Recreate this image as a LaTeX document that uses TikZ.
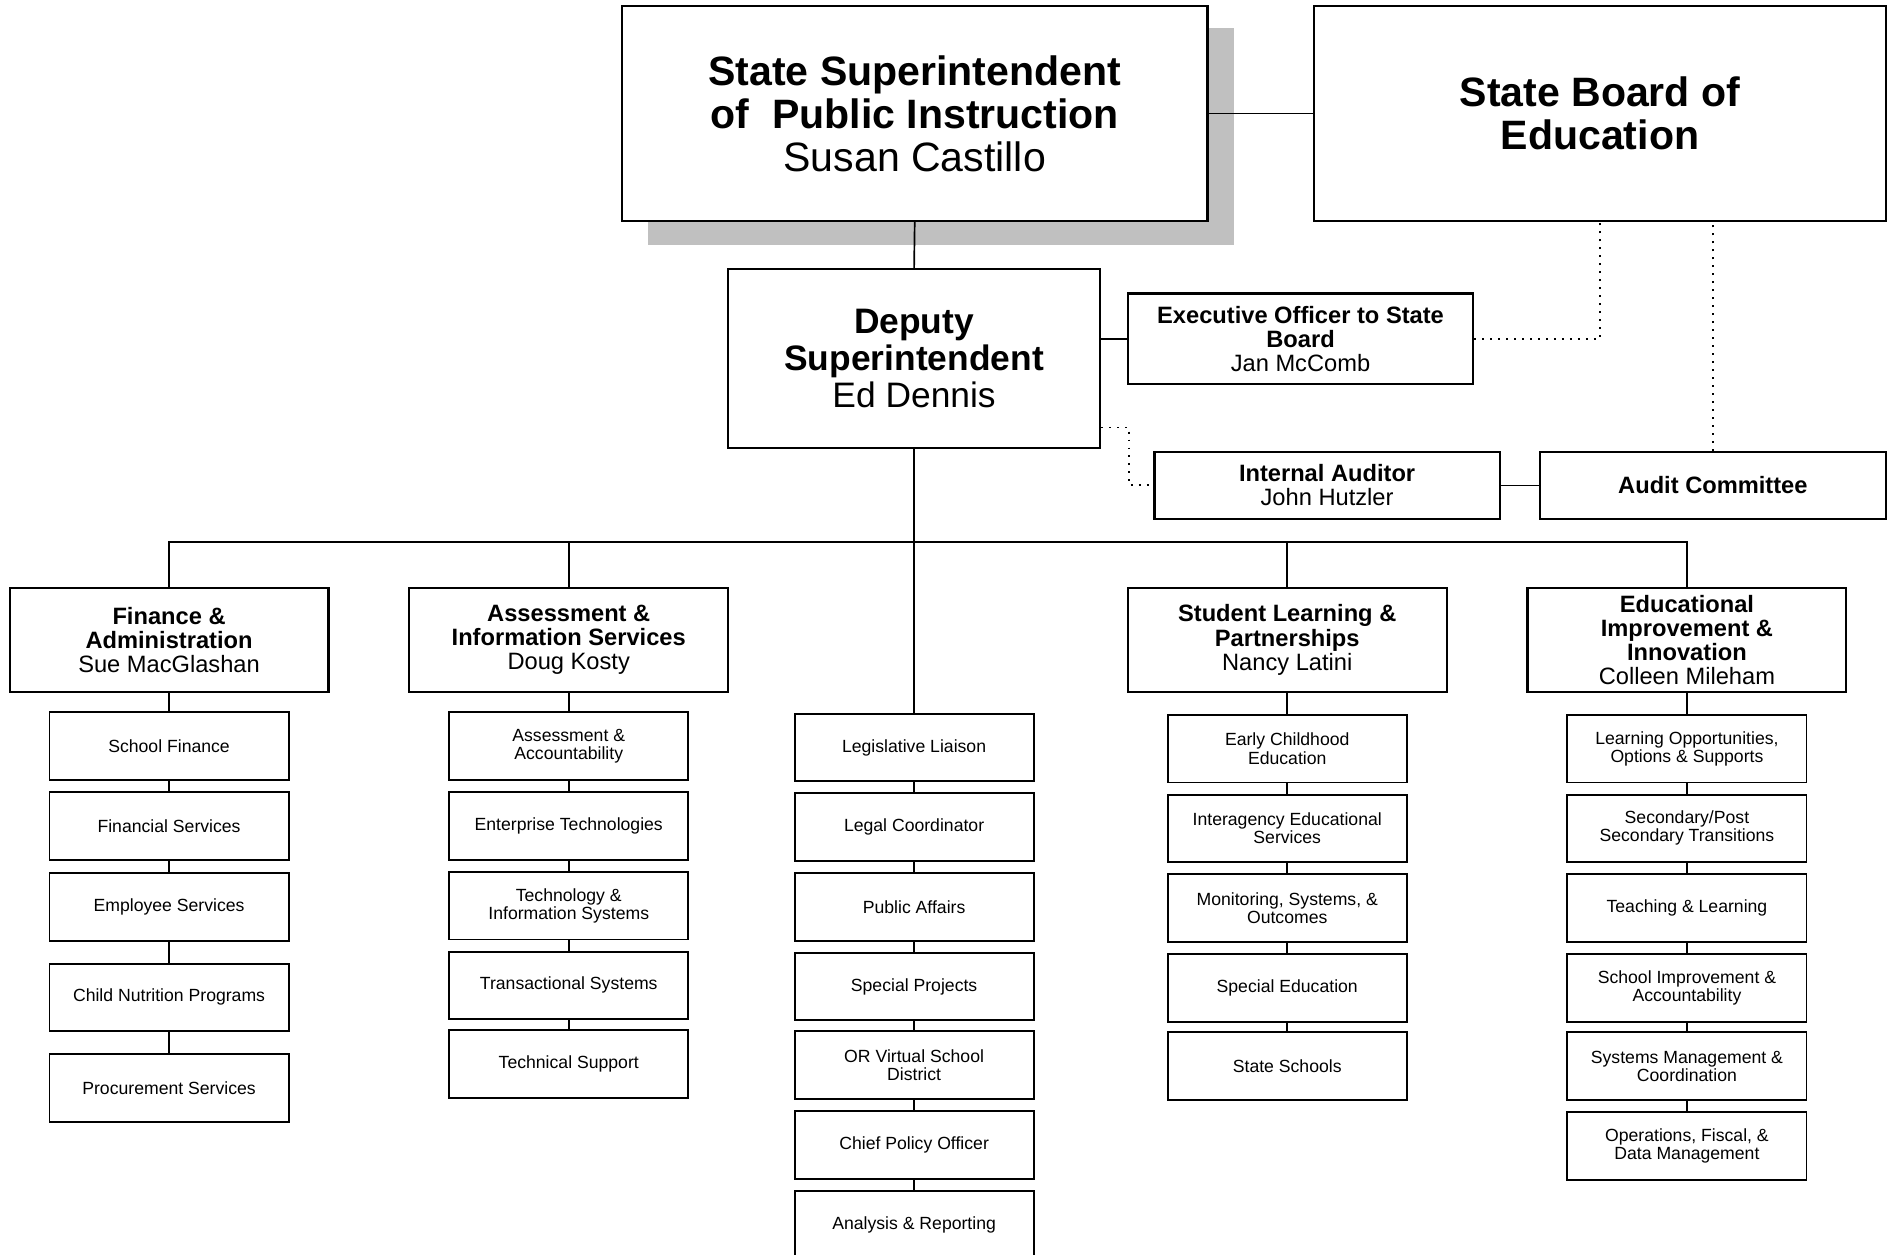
\documentclass[tikz,border=0pt]{standalone}
\usepackage{fontspec}
\setmainfont{Liberation Sans}
\definecolor{shadowgray}{RGB}{192,192,192}
\begin{document}
\begin{tikzpicture}[x=1pt,y=-1pt,
 box/.style={draw, line width=1.8pt, fill=white, inner sep=0pt, align=center},
 topb/.style={box, minimum height=178pt, font=\fontsize{34}{35.5}\selectfont},
 depb/.style={box, minimum width=308pt, minimum height=148pt, font=\fontsize{29.3}{30.5}\selectfont},
 midb/.style={box, minimum width=286pt, minimum height=#1, font=\fontsize{19.6}{20}\selectfont},
 midb/.default=56pt,
 divb/.style={box, minimum width=264pt, minimum height=86pt, font=\fontsize{19.6}{20}\selectfont},
 subb/.style={box, line width=1.6pt, minimum width=198pt, minimum height=56pt, font=\fontsize{14.6}{15}\selectfont},
 conn/.style={line width=1.4pt},
 dots/.style={line width=1.6pt, dash pattern=on 1.6pt off 5pt}
]
\useasboundingbox (0,0) rectangle (1566,1039.3);
\fill[white] (0,0) rectangle (1566,1039.3);
\fill[shadowgray] (537,23) rectangle (1022,203);

% top level
\node[topb, minimum width=485pt] (sspi) at (757.5,94)
  {\textbf{State Superintendent}\\\textbf{of\ \ Public Instruction}\\Susan Castillo};
\node[topb, minimum width=474pt] (sbe) at (1325,94)
  {\textbf{State Board of}\\\textbf{Education}};
\node[depb] (dep) at (757,297)
  {\textbf{Deputy}\\\textbf{Superintendent}\\Ed Dennis};
\node[midb=75pt] (exo) at (1077,280.5)
  {\textbf{Executive Officer to State}\\\textbf{Board}\\Jan McComb};
\node[midb] (ia) at (1099,402)
  {\textbf{Internal Auditor}\\John Hutzler};
\node[midb, minimum width=287pt] (aud) at (1418.5,402)
  {\textbf{Audit Committee}};

% divisions
\node[divb] (fin) at (140,530) {\textbf{Finance \&}\\\textbf{Administration}\\Sue MacGlashan};
\node[divb] (ais) at (471,530) {\textbf{Assessment \&}\\\textbf{Information Services}\\Doug Kosty};
\node[divb] (slp) at (1066,530) {\textbf{Student Learning \&}\\\textbf{Partnerships}\\Nancy Latini};
\node[divb] (eii) at (1397,530) {\textbf{Educational}\\\textbf{Improvement \&}\\\textbf{Innovation}\\Colleen Mileham};

% finance column
\node[subb] (f1) at (140,618) {School Finance};
\node[subb] (f2) at (140,684) {Financial Services};
\node[subb] (f3) at (140,751) {Employee Services};
\node[subb] (f4) at (140,826) {Child Nutrition Programs};
\node[subb] (f5) at (140,901) {Procurement Services};

% assessment column
\node[subb] (a1) at (471,618) {Assessment \&\\Accountability};
\node[subb] (a2) at (471,684) {Enterprise Technologies};
\node[subb] (a3) at (471,750) {Technology \&\\Information Systems};
\node[subb] (a4) at (471,816) {Transactional Systems};
\node[subb] (a5) at (471,881) {Technical Support};

% middle column
\node[subb] (m1) at (757,619) {Legislative Liaison};
\node[subb] (m2) at (757,685) {Legal Coordinator};
\node[subb] (m3) at (757,751) {Public Affairs};
\node[subb] (m4) at (757,817) {Special Projects};
\node[subb] (m5) at (757,882) {OR Virtual School\\District};
\node[subb] (m6) at (757,948) {Chief Policy Officer};
\node[subb] (m7) at (757,1014) {Analysis \& Reporting};

% student learning column
\node[subb] (s1) at (1066,620) {Early Childhood\\Education};
\node[subb] (s2) at (1066,686) {Interagency Educational\\Services};
\node[subb] (s3) at (1066,752) {Monitoring, Systems, \&\\Outcomes};
\node[subb] (s4) at (1066,818) {Special Education};
\node[subb] (s5) at (1066,883) {State Schools};

% educational improvement column
\node[subb] (e1) at (1397,620) {Learning Opportunities,\\Options \& Supports};
\node[subb] (e2) at (1397,686) {Secondary/Post\\Secondary Transitions};
\node[subb] (e3) at (1397,752) {Teaching \& Learning};
\node[subb] (e4) at (1397,818) {School Improvement \&\\Accountability};
\node[subb] (e5) at (1397,883) {Systems Management \&\\Coordination};
\node[subb] (e6) at (1397,949) {Operations, Fiscal, \&\\Data Management};

% connectors
\draw[conn] (sspi.east) -- (sbe.west);
\draw[conn] (sspi.south) -- (dep.north);
\draw[conn] (dep.east |- exo.west) -- (exo.west);
\draw[conn] (ia.east) -- (aud.west);
\draw[dots] (exo.east) -| (sbe.south);
\draw[dots] (aud.north) -- (aud.north |- sbe.south);
\draw[dots] ([yshift=-57pt]dep.east) -- ++(23,0) |- (ia.west);

\coordinate (bus) at (757,449);
\draw[conn] (dep.south) -- (m1.north);
\draw[conn] (fin.north) |- (bus) -| (eii.north);
\draw[conn] (ais.north) -- (ais.north |- bus);
\draw[conn] (slp.north) -- (slp.north |- bus);

\draw[conn] (fin.south) -- (f1.north);
\draw[conn] (f1.south) -- (f2.north);
\draw[conn] (f2.south) -- (f3.north);
\draw[conn] (f3.south) -- (f4.north);
\draw[conn] (f4.south) -- (f5.north);

\draw[conn] (ais.south) -- (a1.north);
\draw[conn] (a1.south) -- (a2.north);
\draw[conn] (a2.south) -- (a3.north);
\draw[conn] (a3.south) -- (a4.north);
\draw[conn] (a4.south) -- (a5.north);

\draw[conn] (m1.south) -- (m2.north);
\draw[conn] (m2.south) -- (m3.north);
\draw[conn] (m3.south) -- (m4.north);
\draw[conn] (m4.south) -- (m5.north);
\draw[conn] (m5.south) -- (m6.north);
\draw[conn] (m6.south) -- (m7.north);

\draw[conn] (slp.south) -- (s1.north);
\draw[conn] (s1.south) -- (s2.north);
\draw[conn] (s2.south) -- (s3.north);
\draw[conn] (s3.south) -- (s4.north);
\draw[conn] (s4.south) -- (s5.north);

\draw[conn] (eii.south) -- (e1.north);
\draw[conn] (e1.south) -- (e2.north);
\draw[conn] (e2.south) -- (e3.north);
\draw[conn] (e3.south) -- (e4.north);
\draw[conn] (e4.south) -- (e5.north);
\draw[conn] (e5.south) -- (e6.north);
\end{tikzpicture}
\end{document}
